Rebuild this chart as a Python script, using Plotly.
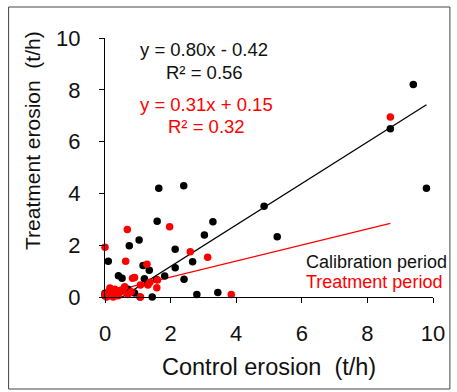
import plotly.graph_objects as go
import numpy as np

# Calibration period (black)
cal_x = [9.4, 8.7, 9.8, 4.85, 5.25, 3.29, 3.03, 2.4, 1.64, 1.59, 1.04, 0.74, 2.14, 2.67, 2.14,
         2.41, 1.82, 2.8, 3.44, 1.44, 1.07, 0.1, 0.41, 0.52, 1.16, 1.35, 1.2, 1.57, 0.0, 0.7,
         0.9, 0.3, 0.15, 0.0, 1.3]
cal_y = [8.2, 6.5, 4.2, 3.5, 2.33, 2.91, 2.39, 4.3, 4.2, 2.92, 2.2, 1.98, 1.84, 1.36, 1.13,
         0.69, 0.81, 0.1, 0.17, 0.0, 0.0, 1.38, 0.82, 0.72, 1.22, 1.03, 0.7, 0.68, 0.14, 0.3,
         0.15, 0.05, 0.25, 0.05, 0.5]

# Treatment period (red)
trt_x = [8.7, 3.85, 3.13, 2.6, 1.97, 0.68, 0.0, 0.63, 1.28, 0.84, 0.9, 1.08, 1.31, 1.37, 1.6,
         1.58, 1.08, 0.55, 0.0, 0.1, 0.2, 0.3, 0.4, 0.5, 0.6, 0.7, 0.25, 0.15, 0.45, 0.8,
         0.05, 0.35]
trt_y = [6.95, 0.1, 1.53, 1.75, 2.71, 2.61, 1.92, 1.38, 1.26, 0.72, 0.75, 0.46, 0.46, 0.57, 0.66,
         0.36, 0.0, 0.3, 0.1, 0.2, 0.15, 0.3, 0.05, 0.2, 0.4, 0.1, 0.0, 0.35, 0.25, 0.2,
         0.0, 0.15]

cal_slope, cal_int = 0.80, -0.42
trt_slope, trt_int = 0.31, 0.15

tick_vals = [0, 2, 4, 6, 8, 10]

FONT = "Liberation Sans, Arial, sans-serif"
INK = "#111111"
RED = "#ff0000"

fig = go.Figure()

cx = np.linspace(min(cal_x), max(cal_x), 50)
fig.add_trace(go.Scatter(x=cx, y=cal_slope * cx + cal_int, mode="lines",
                         line=dict(color="black", width=1.3), showlegend=False))
tx = np.linspace(min(trt_x), max(trt_x), 50)
fig.add_trace(go.Scatter(x=tx, y=trt_slope * tx + trt_int, mode="lines",
                         line=dict(color=RED, width=1.3), showlegend=False))

fig.add_trace(go.Scatter(x=cal_x, y=cal_y, mode="markers", cliponaxis=False,
                         marker=dict(color="black", size=7.5), showlegend=False))
fig.add_trace(go.Scatter(x=trt_x, y=trt_y, mode="markers", cliponaxis=False,
                         marker=dict(color=RED, size=7.5), showlegend=False))

axis_common = dict(
    range=[0, 10], tickvals=tick_vals, showgrid=False, zeroline=False,
    showline=True, linecolor="black", linewidth=1, ticks="outside",
    ticklen=5, tickcolor="black", tickwidth=1,
    tickfont=dict(family=FONT, size=22, color=INK),
)
fig.update_xaxes(**axis_common, ticklabelstandoff=12)
fig.update_yaxes(**axis_common, ticklabelstandoff=14)

ann = []
ann.append(dict(x=3.03, y=9.54, text="y = 0.80x - 0.42", font=dict(color=INK, size=18.5, family=FONT)))
ann.append(dict(x=3.03, y=8.65, text="R² = 0.56", font=dict(color=INK, size=18.5, family=FONT)))
ann.append(dict(x=3.09, y=7.45, text="y = 0.31x + 0.15", font=dict(color=RED, size=18.5, family=FONT)))
ann.append(dict(x=3.09, y=6.6, text="R² = 0.32", font=dict(color=RED, size=18.5, family=FONT)))
ann.append(dict(x=6.06, y=1.35, text="Calibration period", xanchor="left", font=dict(color=INK, size=18, family=FONT)))
ann.append(dict(x=6.06, y=0.58, text="Treatment period", xanchor="left", font=dict(color=RED, size=18, family=FONT)))
for a in ann:
    a.update(xref="x", yref="y", showarrow=False)
    a.setdefault("xanchor", "center")
    a["yanchor"] = "middle"

# axis titles
ann.append(dict(xref="paper", yref="paper", x=(270 - 105) / 330, y=(297 - 367) / 259,
                text="Control erosion  (t/h)", showarrow=False, xanchor="center", yanchor="middle",
                font=dict(family=FONT, size=23.5, color=INK)))
ann.append(dict(xref="paper", yref="paper", x=(32 - 105) / 330, y=(297 - 140.5) / 259,
                text="Treatment erosion  (t/h)", showarrow=False, xanchor="center", yanchor="middle",
                textangle=-90, font=dict(family=FONT, size=21, color=INK)))

fig.update_layout(
    width=457, height=392,
    margin=dict(l=105, r=22, t=38, b=95),
    plot_bgcolor="white", paper_bgcolor="white",
    annotations=ann,
    shapes=[dict(type="rect", xref="paper", yref="paper",
                 x0=(8 - 105) / 330, x1=(452 - 105) / 330,
                 y0=(297 - 389) / 259, y1=(297 - 7) / 259,
                 line=dict(color="#444", width=1))],
)

fig.write_html("out.html")
